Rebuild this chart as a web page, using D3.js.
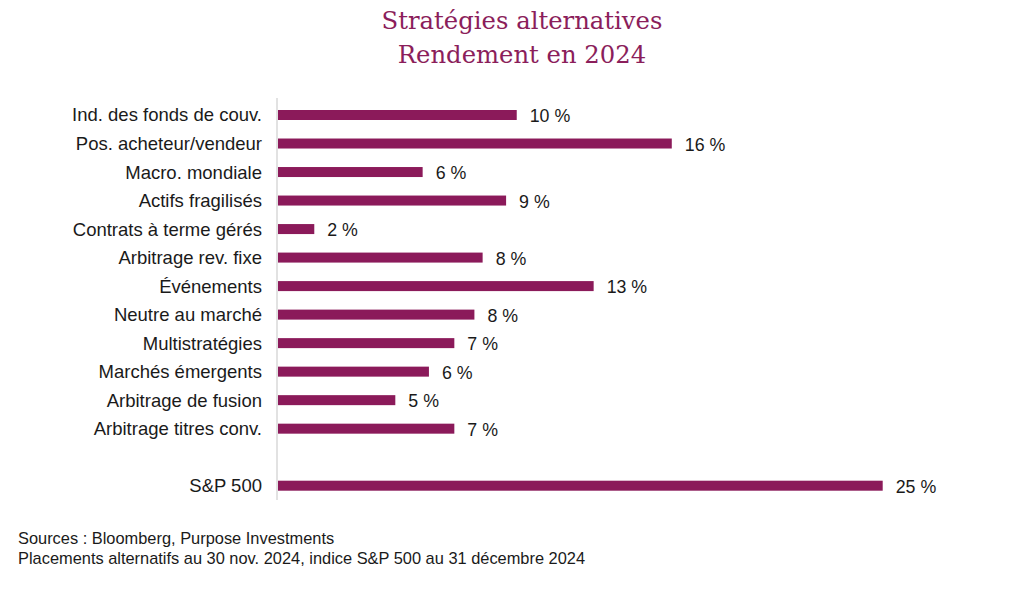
<!DOCTYPE html>
<html><head><meta charset="utf-8">
<script src="https://cdn.jsdelivr.net/npm/d3@7"></script>
<style>body{margin:0;background:#fff}svg{display:block}</style>
</head><body>
<svg id="c" width="1024" height="600"></svg>
<script>
const categories = ["Ind. des fonds de couv.","Pos. acheteur/vendeur","Macro. mondiale","Actifs fragilisés","Contrats à terme gérés","Arbitrage rev. fixe","Événements","Neutre au marché","Multistratégies","Marchés émergents","Arbitrage de fusion","Arbitrage titres conv.","","S&P 500"];
const values = [9.87,16.28,5.98,9.43,1.5,8.46,13.05,8.12,7.29,6.24,4.85,7.29,null,25.0];
const labels = ["10 %","16 %","6 %","9 %","2 %","8 %","13 %","8 %","7 %","6 %","5 %","7 %","","25 %"];
const titleLines = ["Stratégies alternatives","Rendement en 2024"];
const footLines = ["Sources : Bloomberg, Purpose Investments","Placements alternatifs au 30 nov. 2024, indice S&P 500 au 31 décembre 2024"];

const svg = d3.select("#c");
const purple = "#8B1A5A";
const barH = 10;
const x = d3.scaleLinear().domain([0,25]).range([278,882.7]);
const y = d3.scalePoint().domain(categories.map((c,i)=>i)).range([115,485.7]);

svg.append("g").selectAll("text").data(titleLines).join("text")
  .attr("x",522).attr("y",(d,i)=>29+i*34).attr("text-anchor","middle")
  .attr("font-family","'DejaVu Serif', serif").attr("font-size",24.3).attr("fill","#8B1E5B").text(d=>d);

const data = categories.map((c,i)=>({c,i,v:values[i],l:labels[i]})).filter(d=>d.v!=null);

svg.append("g").selectAll("rect").data(data).join("rect")
  .attr("x",x(0)).attr("y",d=>y(d.i)-barH/2).attr("width",d=>x(d.v)-x(0)).attr("height",barH)
  .attr("fill",purple);

svg.append("line").attr("x1",277).attr("x2",277).attr("y1",98).attr("y2",500)
  .attr("stroke","#d9d9d9").attr("stroke-width",1.5);

svg.append("g").selectAll("text").data(data).join("text")
  .attr("x",262).attr("y",d=>y(d.i)).attr("dy","0.35em").attr("text-anchor","end")
  .attr("font-family","'Liberation Sans', Arial, sans-serif").attr("font-size",18.5).attr("fill","#1a1a1a").text(d=>d.c);

svg.append("g").selectAll("text").data(data).join("text")
  .attr("x",d=>x(d.v)+13).attr("y",d=>y(d.i)+1).attr("dy","0.35em")
  .attr("font-family","'Liberation Sans', Arial, sans-serif").attr("font-size",17.8).attr("fill","#1a1a1a").text(d=>d.l);

svg.append("g").selectAll("text").data(footLines).join("text")
  .attr("x",18).attr("y",(d,i)=>544+i*19.5)
  .attr("font-family","'Liberation Sans', Arial, sans-serif").attr("font-size",16.4).attr("fill","#1a1a1a").text(d=>d);
</script>
</body></html>
